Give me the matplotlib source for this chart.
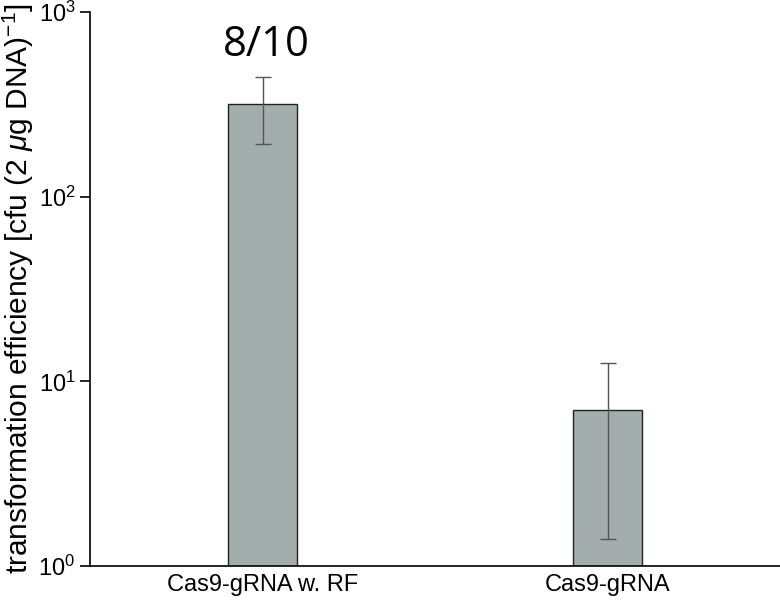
import matplotlib
matplotlib.use("Agg")
import matplotlib.pyplot as plt
import numpy as np

categories = ["Cas9-gRNA w. RF", "Cas9-gRNA"]
values = [318, 7.0]
errors = [124, 5.6]
annotation = "8/10"

plt.rcParams['font.family'] = ['Liberation Sans', 'DejaVu Sans']
plt.rcParams['mathtext.fontset'] = 'custom'
plt.rcParams['mathtext.rm'] = 'Liberation Sans'
plt.rcParams['mathtext.it'] = 'Liberation Sans:italic'

fig = plt.figure(figsize=(7.8, 6.02), dpi=100)
ax = fig.add_axes([90/780, 1-566/602, 690/780, (566-12)/602])

x = np.arange(len(categories))
ax.bar(x, values, width=0.2, color="#a3adab", edgecolor="#222222", linewidth=1.0,
       yerr=errors, error_kw=dict(ecolor="#555555", elinewidth=1.0, capsize=5.5, capthick=1.0),
       zorder=2)

ax.set_yscale('log')
ax.set_ylim(1, 1000)
ax.set_xlim(-0.5, 1.5)
ax.set_xticks(x)
ax.set_xticklabels(categories, fontsize=17)
ax.tick_params(axis='x', length=0, pad=6)
ax.tick_params(axis='y', which='major', length=7.5, width=1.2, labelsize=17, direction='out', pad=3)
ax.tick_params(axis='y', which='minor', length=0)
ax.set_yticks([1, 10, 100, 1000])
for s in ['top', 'right']:
    ax.spines[s].set_visible(False)
for s in ['left', 'bottom']:
    ax.spines[s].set_linewidth(1.2)

ax.set_ylabel(r'transformation efficiency [cfu (2 $\mu$g DNA)$^{-1}$]', fontsize=21.5, labelpad=2)
ax.text(0.012, 510, annotation, ha='center', va='bottom', fontsize=30,
        family=['Open Sans', 'DejaVu Sans'])

fig.savefig("out.png", dpi=100)
